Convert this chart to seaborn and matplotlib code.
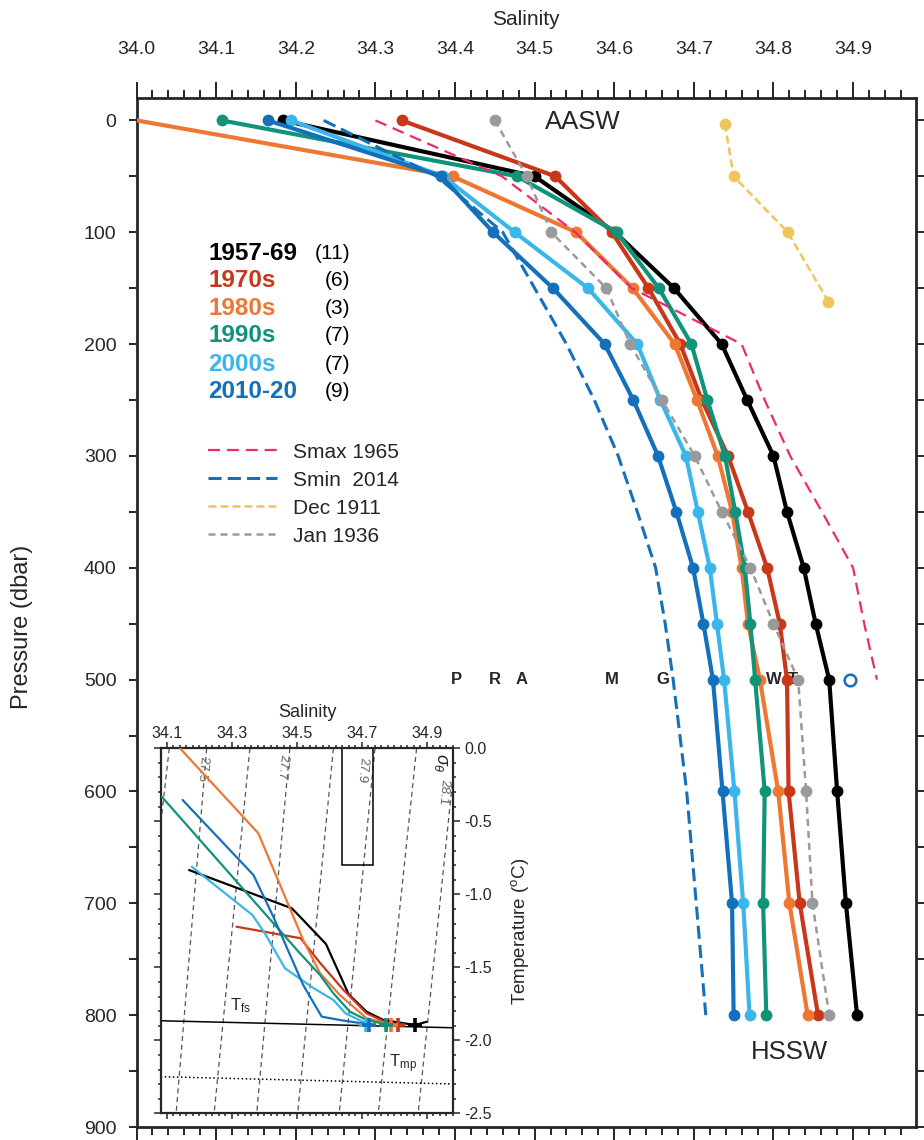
import matplotlib
matplotlib.use("Agg")
import matplotlib.pyplot as plt
from matplotlib.lines import Line2D
from matplotlib.patches import Rectangle
from matplotlib.ticker import MultipleLocator, FixedLocator
import seaborn as sns

# ---------------- main panel: salinity profiles ----------------
pressure = [0, 50, 100, 150, 200, 250, 300, 350, 400, 450, 500, 600, 700, 800]

sal_1957_69 = [34.184, 34.500, 34.601, 34.675, 34.735, 34.767, 34.800, 34.817, 34.838, 34.853, 34.870, 34.880, 34.891, 34.905]
sal_1970s = [34.333, 34.526, 34.597, 34.643, 34.683, 34.710, 34.743, 34.768, 34.792, 34.808, 34.817, 34.819, 34.833, 34.856]
sal_1980s = [34.000, 34.397, 34.552, 34.623, 34.676, 34.704, 34.730, 34.748, 34.760, 34.768, 34.783, 34.806, 34.820, 34.843]
sal_1990s = [34.107, 34.478, 34.603, 34.656, 34.697, 34.717, 34.739, 34.752, 34.764, 34.771, 34.777, 34.789, 34.787, 34.791]
sal_2000s = [34.194, 34.385, 34.475, 34.567, 34.629, 34.658, 34.690, 34.705, 34.720, 34.729, 34.738, 34.751, 34.762, 34.770]
sal_2010_20 = [34.165, 34.383, 34.448, 34.523, 34.588, 34.624, 34.655, 34.678, 34.699, 34.712, 34.724, 34.736, 34.748, 34.750]

decades = ["1957-69", "1970s", "1980s", "1990s", "2000s", "2010-20"]
counts = ["(11)", "(6)", "(3)", "(7)", "(7)", "(9)"]
colors = ["#000000", "#C8371A", "#EE7733", "#11937A", "#3BB6EA", "#1570BC"]

smax_1965_p = [0, 50, 100, 150, 200, 250, 300, 350, 400, 450, 500]
smax_1965_s = [34.300, 34.459, 34.551, 34.622, 34.760, 34.789, 34.821, 34.861, 34.900, 34.914, 34.930]
smin_2014_p = [0, 50, 100, 150, 200, 250, 300, 350, 400, 450, 500, 600, 700, 800]
smin_2014_s = [34.235, 34.377, 34.460, 34.500, 34.540, 34.575, 34.605, 34.629, 34.652, 34.664, 34.674, 34.691, 34.703, 34.715]
dec1911_p = [3, 50, 100, 162]
dec1911_s = [34.739, 34.750, 34.818, 34.869]
jan1936_s = [34.450, 34.490, 34.521, 34.590, 34.620, 34.660, 34.701, 34.735, 34.771, 34.800, 34.831, 34.841, 34.849, 34.870]

station_names = ["P", "R", "A", "M", "G", "W", "T"]
station_sal = [34.402, 34.450, 34.484, 34.597, 34.661, 34.801, 34.825]
open_circle_s, open_circle_p = 34.896, 500

# ---------------- inset: T-S diagram ----------------
ts_1957_69_s = [34.169, 34.485, 34.510, 34.590, 34.660, 34.715, 34.767, 34.818, 34.864, 34.900]
ts_1957_69_t = [-0.834, -1.096, -1.153, -1.340, -1.685, -1.804, -1.861, -1.879, -1.895, -1.873]
ts_1970s_s = [34.315, 34.512, 34.572, 34.644, 34.715, 34.777, 34.813]
ts_1970s_t = [-1.222, -1.301, -1.470, -1.655, -1.815, -1.879, -1.895]
ts_1980s_s = [34.141, 34.382, 34.520, 34.572, 34.633, 34.715, 34.777, 34.790]
ts_1980s_t = [0.0, -0.582, -1.313, -1.541, -1.690, -1.849, -1.884, -1.895]
ts_1990s_s = [34.085, 34.510, 34.572, 34.613, 34.664, 34.715, 34.775]
ts_1990s_t = [-0.332, -1.404, -1.553, -1.678, -1.804, -1.861, -1.890]
ts_2000s_s = [34.177, 34.364, 34.402, 34.464, 34.550, 34.613, 34.650, 34.715]
ts_2000s_t = [-0.811, -1.142, -1.267, -1.507, -1.640, -1.724, -1.815, -1.885]
ts_2010_20_s = [34.149, 34.367, 34.428, 34.520, 34.577, 34.633, 34.720]
ts_2010_20_t = [-0.354, -0.868, -1.153, -1.621, -1.838, -1.861, -1.890]

cross_s = [34.864, 34.813, 34.790, 34.775, 34.714, 34.722]
cross_t = [-1.895, -1.895, -1.895, -1.895, -1.895, -1.895]

sigma_levels = [27.4, 27.5, 27.6, 27.7, 27.8, 27.9, 28.0, 28.1]
iso_s_at_0 = [34.108, 34.223, 34.356, 34.479, 34.613, 34.741, 34.869, 34.990]
iso_s_at_m25 = [33.980, 34.129, 34.246, 34.377, 34.503, 34.631, 34.751, 34.874]
iso_label_s = {27.5: 34.208, 27.7: 34.455, 27.9: 34.700, 28.1: 34.951}
iso_label_t = {27.5: -0.14, 27.7: -0.13, 27.9: -0.15, 28.1: -0.30}

tfs_s = [34.0815, 34.982]
tfs_t = [-1.866, -1.914]
tmp_s = [34.0815, 34.982]
tmp_t = [-2.249, -2.299]
box_s = (34.638, 34.736)
box_t = (-0.80, 0.0)

# ---------------- style ----------------
sns.set_style("ticks")
plt.rcParams["font.family"] = ["Liberation Sans", "DejaVu Sans"]
plt.rcParams["mathtext.fontset"] = "custom"
plt.rcParams["mathtext.rm"] = "Liberation Sans"
plt.rcParams["mathtext.it"] = "Liberation Sans:italic"
plt.rcParams["axes.unicode_minus"] = False

fig = plt.figure(figsize=(9.24, 11.4), dpi=100)
ax = fig.add_axes([0.1478, 0.0114, 0.8435, 0.9026])

profiles = [sal_1957_69, sal_1970s, sal_1980s, sal_1990s, sal_2000s, sal_2010_20]
zorders = [3, 4, 5, 6, 7, 8]
for name, sal, col, z in zip(decades, profiles, colors, zorders):
    kw = {}
    if name == "1980s":
        kw["markevery"] = list(range(1, len(sal)))
    sns.lineplot(x=sal, y=pressure, sort=False, estimator=None, ax=ax, color=col,
                 linewidth=3, marker="o", markersize=8.5, markeredgewidth=0,
                 zorder=z, **kw)

pink, yellow, grey, blue = "#EC2A6C", "#EEC65C", "#9A9A9A", "#1570BC"
smax_ls = (0, (5.4, 3.1))
smin_ls = (0, (4.3, 2.0))
dec_ls = (0, (3.2, 1.6))
jan_ls = (0, (2.8, 2.0))

sns.lineplot(x=smax_1965_s, y=smax_1965_p, sort=False, estimator=None, ax=ax,
             color=pink, linewidth=1.6, linestyle=smax_ls, zorder=10)
sns.lineplot(x=smin_2014_s, y=smin_2014_p, sort=False, estimator=None, ax=ax,
             color=blue, linewidth=2.2, linestyle=smin_ls, zorder=10)
sns.lineplot(x=dec1911_s, y=dec1911_p, sort=False, estimator=None, ax=ax,
             color=yellow, linewidth=1.8, linestyle=dec_ls, marker="o",
             markersize=8.5, markeredgewidth=0, zorder=10)
sns.lineplot(x=jan1936_s, y=pressure, sort=False, estimator=None, ax=ax,
             color=grey, linewidth=1.8, linestyle=jan_ls, marker="o",
             markersize=8.5, markeredgewidth=0, zorder=11)
sns.scatterplot(x=[open_circle_s], y=[open_circle_p], ax=ax, s=70,
                facecolor="white", edgecolor=blue, linewidth=1.8, zorder=12)

ax.set_xlim(34.0, 34.979)
ax.set_ylim(900, -20)

ax.xaxis.set_label_position("top")
ax.set_xticks([34.0 + 0.1 * i for i in range(10)])
ax.set_xticklabels([f"{34.0 + 0.1 * i:.1f}" for i in range(10)])
ax.xaxis.set_minor_locator(MultipleLocator(0.02))
ax.set_yticks(list(range(0, 901, 100)))
ax.yaxis.set_minor_locator(MultipleLocator(50))
ax.tick_params(axis="x", which="both", top=True, bottom=True, labeltop=True,
               labelbottom=False, direction="out", width=1.4, labelsize=14)
ax.tick_params(axis="x", which="major", length=11.5, pad=17)
ax.tick_params(axis="x", which="minor", length=5.8)
ax.tick_params(axis="y", which="both", left=True, right=True, direction="out",
               length=5.5, width=1.4, labelsize=14, pad=9)
for sp in ax.spines.values():
    sp.set_linewidth(2)

ax.set_xlabel("Salinity", fontsize=15)
ax.xaxis.set_label_coords(0.5, 1.0705)
ax.set_ylabel("Pressure (dbar)", fontsize=17)
ax.yaxis.set_label_coords(-0.133, 0.486)

# decade labels
label_p = [119, 143.5, 168, 192.5, 218, 242]
for name, n, col, p in zip(decades, counts, colors, label_p):
    ax.text(34.090, p, name, color=col, fontsize=17.5, fontweight="bold",
            ha="left", va="center")
    ax.text(34.224 if n == "(11)" else 34.237, p, n, color="black", fontsize=15,
            ha="left", va="center")

handles = [
    Line2D([], [], color=pink, lw=1.6, linestyle=smax_ls),
    Line2D([], [], color=blue, lw=2.2, linestyle=smin_ls),
    Line2D([], [], color=yellow, lw=1.8, linestyle=dec_ls),
    Line2D([], [], color=grey, lw=1.8, linestyle=jan_ls),
]
ax.legend(handles, ["Smax 1965", "Smin  2014", "Dec 1911", "Jan 1936"],
          loc="upper left", bbox_to_anchor=(0.092, 0.665), frameon=False,
          fontsize=15, handlelength=3.3, handletextpad=0.75, labelspacing=0.43,
          borderaxespad=0, borderpad=0)

ax.text(34.561, 1, "AASW", fontsize=18.5, ha="center", va="center")
ax.text(34.820, 833, "HSSW", fontsize=18.5, ha="center", va="center")
for name, s in zip(station_names, station_sal):
    ax.text(s, 500, name, fontsize=12, fontweight="bold", ha="center",
            va="center", zorder=2)

# ---------------- inset ----------------
ax_in = fig.add_axes([0.1739, 0.0234, 0.3167, 0.3202])
ax_in.set_facecolor("white")

for sig, s0, s1 in zip(sigma_levels, iso_s_at_0, iso_s_at_m25):
    sns.lineplot(x=[s0, s1], y=[0.0, -2.5], sort=False, estimator=None,
                 ax=ax_in, color="#555555", linewidth=0.9,
                 linestyle=(0, (4, 3)), zorder=1)
    if sig in iso_label_s:
        ax_in.text(iso_label_s[sig], iso_label_t[sig], f"{sig:.1f}",
                   rotation=-95.6, fontsize=9.5, color="#666666",
                   ha="center", va="center")

ax_in.add_patch(Rectangle((box_s[0], box_t[0]), box_s[1] - box_s[0],
                          box_t[1] - box_t[0], fill=False, ec="black", lw=1.1))

sns.lineplot(x=tfs_s, y=tfs_t, sort=False, estimator=None, ax=ax_in,
             color="black", linewidth=1.1, zorder=2)
sns.lineplot(x=tmp_s, y=tmp_t, sort=False, estimator=None, ax=ax_in,
             color="black", linewidth=1.1, linestyle=":", zorder=2)

ts_s = [ts_1957_69_s, ts_1970s_s, ts_1980s_s, ts_1990s_s, ts_2000s_s, ts_2010_20_s]
ts_t = [ts_1957_69_t, ts_1970s_t, ts_1980s_t, ts_1990s_t, ts_2000s_t, ts_2010_20_t]
for s, t, col, z in zip(ts_s, ts_t, colors, zorders):
    sns.lineplot(x=s, y=t, sort=False, estimator=None, ax=ax_in, color=col,
                 linewidth=1.6, zorder=z)
for s, t, col, z in zip(cross_s, cross_t, colors, zorders):
    sns.scatterplot(x=[s], y=[t], ax=ax_in, marker="+", s=110, color=col,
                    linewidth=2.6, zorder=z + 10)

ax_in.text(34.326, -1.83, r"T$_{\mathrm{fs}}$", fontsize=12, ha="center", va="bottom")
ax_in.text(34.828, -2.24, r"T$_{\mathrm{mp}}$", fontsize=12, ha="center", va="bottom")
ax_in.text(34.942, -0.10, r"$\sigma_\theta$", fontsize=13, rotation=-90,
           ha="center", va="center")

ax_in.set_xlim(34.0815, 34.982)
ax_in.set_ylim(-2.5, 0.0)
ax_in.xaxis.set_label_position("top")
ax_in.yaxis.set_label_position("right")
ax_in.xaxis.set_major_locator(FixedLocator([34.1, 34.3, 34.5, 34.7, 34.9]))
ax_in.set_xticklabels(["34.1", "34.3", "34.5", "34.7", "34.9"])
ax_in.xaxis.set_minor_locator(MultipleLocator(0.02))
ax_in.set_yticks([0.0, -0.5, -1.0, -1.5, -2.0, -2.5])
ax_in.set_yticklabels(["0.0", "-0.5", "-1.0", "-1.5", "-2.0", "-2.5"])
ax_in.yaxis.set_minor_locator(MultipleLocator(0.1))
ax_in.tick_params(axis="x", which="both", top=True, bottom=True, labeltop=True,
                  labelbottom=False, direction="out", width=1.1, labelsize=11.5, pad=1)
ax_in.tick_params(axis="x", which="major", length=4.5)
ax_in.tick_params(axis="x", which="minor", length=2.5)
ax_in.tick_params(axis="y", which="both", left=True, right=True, labelleft=False,
                  labelright=True, direction="out", width=1.1, labelsize=11.5, pad=3)
ax_in.tick_params(axis="y", which="major", length=5)
ax_in.tick_params(axis="y", which="minor", length=2.5)
for sp in ax_in.spines.values():
    sp.set_linewidth(1.6)
ax_in.set_xlabel("Salinity", fontsize=13, labelpad=6)
ax_in.set_ylabel("Temperature ($^{\\mathrm{o}}$C)", fontsize=13.5, labelpad=12)

fig.savefig("out.png", dpi=100)
